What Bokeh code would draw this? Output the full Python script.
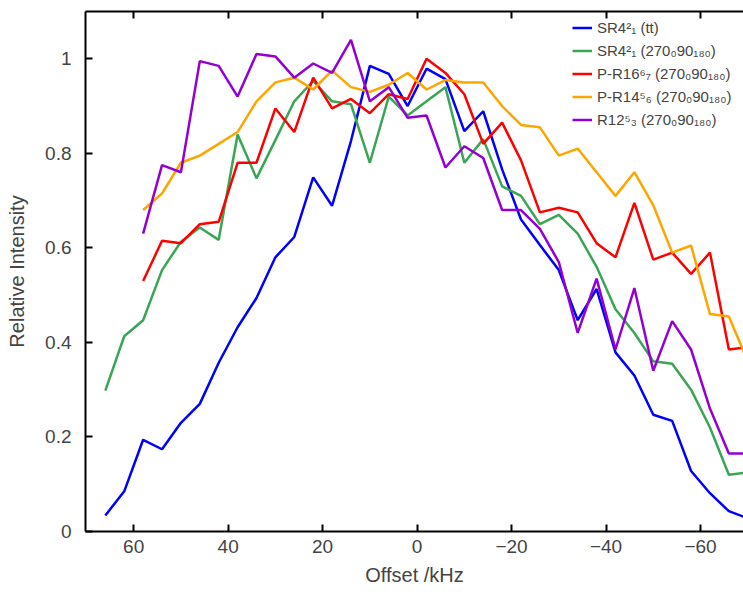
from bokeh.plotting import figure
from bokeh.models import Range1d, LinearAxis, Legend, LegendItem, FixedTicker
from bokeh.embed import file_html
from bokeh.resources import INLINE

x_blue = [66 - 4 * i for i in range(35)]
x_rest = [58 - 4 * i for i in range(33)]
blue = [0.034, 0.085, 0.194, 0.174, 0.23, 0.27, 0.357, 0.432, 0.494, 0.58, 0.623, 0.749, 0.689, 0.826,
        0.985, 0.968, 0.9, 0.979, 0.957, 0.847, 0.889, 0.766, 0.66, 0.606, 0.553, 0.447, 0.513, 0.379,
        0.33, 0.247, 0.234, 0.128, 0.081, 0.043, 0.028]
green = [0.298, 0.413, 0.447, 0.553, 0.613, 0.643, 0.617, 0.84, 0.747, 0.828, 0.91, 0.953, 0.91, 0.904,
         0.78, 0.92, 0.88, 0.91, 0.94, 0.78, 0.83, 0.73, 0.71, 0.65, 0.67, 0.63, 0.56, 0.47, 0.42, 0.36,
         0.355, 0.3, 0.22, 0.12, 0.125]
red = [0.53, 0.615, 0.61, 0.65, 0.655, 0.78, 0.78, 0.895, 0.845, 0.96, 0.895, 0.915, 0.885, 0.925, 0.915,
       1.0, 0.97, 0.925, 0.82, 0.865, 0.785, 0.675, 0.685, 0.675, 0.61, 0.58, 0.695, 0.575, 0.59, 0.545,
       0.59, 0.385, 0.39]
orange = [0.68, 0.715, 0.78, 0.795, 0.82, 0.845, 0.91, 0.95, 0.96, 0.935, 0.975, 0.94, 0.93, 0.945, 0.97,
          0.935, 0.955, 0.95, 0.95, 0.9, 0.86, 0.855, 0.795, 0.81, 0.76, 0.71, 0.76, 0.69, 0.59, 0.605,
          0.46, 0.455, 0.36]
purple = [0.63, 0.775, 0.76, 0.995, 0.985, 0.92, 1.01, 1.005, 0.96, 0.99, 0.97, 1.04, 0.91, 0.94, 0.875,
          0.88, 0.77, 0.815, 0.79, 0.68, 0.68, 0.64, 0.57, 0.42, 0.535, 0.385, 0.515, 0.34, 0.445, 0.385,
          0.26, 0.165, 0.165]
labels = ["SR4²₁ (tt)", "SR4²₁ (270₀90₁₈₀)", "P-R16⁶₇ (270₀90₁₈₀)",
          "P-R14⁵₆ (270₀90₁₈₀)", "R12⁵₃ (270₀90₁₈₀)"]
xticks = [60, 40, 20, 0, -20, -40, -60]
yticks = [0, 0.2, 0.4, 0.6, 0.8, 1]

p = figure(width=743, height=588, output_backend="svg", toolbar_location=None,
           x_range=Range1d(70.2, -69.1), y_range=Range1d(0, 1.1),
           min_border_left=85, min_border_top=11, min_border_bottom=50, min_border_right=0,
           x_axis_label="Offset /kHz", y_axis_label="Relative Intensity")
p.outline_line_color = None
p.grid.visible = False
p.xaxis.ticker = FixedTicker(ticks=xticks)
p.yaxis.ticker = FixedTicker(ticks=yticks)
p.yaxis.major_label_overrides = {0: "0", 1: "1"}
for ax in (p.xaxis[0], p.yaxis[0]):
    ax.major_tick_in = 7
    ax.major_tick_out = 0
    ax.minor_tick_line_color = None
    ax.axis_line_width = 2
    ax.major_tick_line_width = 2
    ax.major_label_text_font = "Liberation Sans"
    ax.major_label_text_font_size = "19px"
    ax.axis_label_text_font = "Liberation Sans"
    ax.axis_label_text_font_size = "20px"
    ax.axis_label_text_font_style = "normal"
p.xaxis.major_label_standoff = 8
p.xaxis.axis_label_standoff = 8
p.yaxis.major_label_standoff = 14
p.yaxis.axis_label_standoff = 14
top = LinearAxis(ticker=FixedTicker(ticks=xticks), major_label_text_alpha=0,
                 major_label_text_font_size="2px", major_label_standoff=0,
                 major_tick_in=7, major_tick_out=0, minor_tick_line_color=None,
                 axis_line_width=2, major_tick_line_width=2)
p.add_layout(top, "above")

colors = ["#0000ff", "#3aa655", "#ff0000", "#ffa500", "#9400d3"]
series = [(x_blue, blue), (x_blue, green), (x_rest, red), (x_rest, orange), (x_rest, purple)]
items = []
for (xs, ys), c, lab in zip(series, colors, labels):
    r = p.line(xs, ys, line_color=c, line_width=2.5)
    items.append(LegendItem(label=lab, renderers=[r]))
leg = Legend(items=items, location=(487, 402), background_fill_alpha=0, border_line_color=None,
             label_text_font="Liberation Sans", label_text_font_size="15px",
             spacing=4, label_height=19, glyph_height=19, glyph_width=20, padding=0, margin=0)
p.add_layout(leg, "center")

open("out.html", "w").write(file_html(p, INLINE))
